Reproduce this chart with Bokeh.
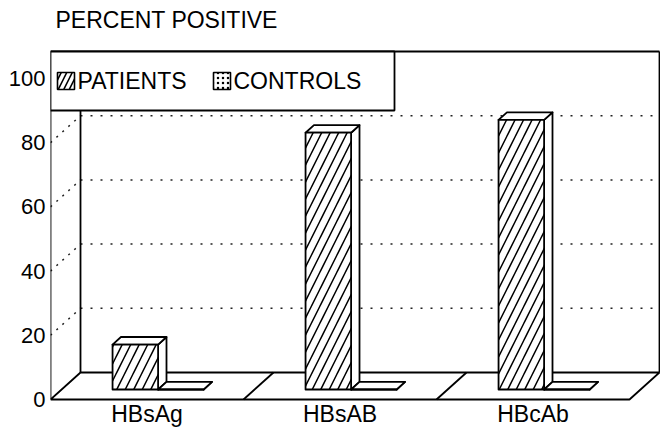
from bokeh.plotting import figure
from bokeh.models import Range1d, LinearAxis, FixedTicker
from bokeh.core.properties import value
from bokeh.embed import file_html
from bokeh.resources import INLINE

# ---- data ----
categories = ["HBsAg", "HBsAB", "HBcAb"]
patients = [14, 80, 84]
controls = [0, 0, 0]
y_ticks = [0, 20, 40, 60, 80, 100]
grid_levels = [20, 40, 60, 80]
series_names = ["PATIENTS", "CONTROLS"]
title_text = "PERCENT POSITIVE"

# ---- geometry (layout constants) ----
W, H = 660, 432
LEFT = 50
PX_X = 193.0          # pixels per category
PX_Y = 3.21           # pixels per percent
Y0_PAGE = 399         # figure-pixel row of value 0 (front)
DX, DY = 30 / PX_X, 27 / PX_Y   # full depth offset
BAR_W = 0.236
D0, D1 = 0.37, 0.65
N = len(categories)
TOP = 100 + DY

FONT = value("Liberation Sans")
FS = value("23px")
LW = 1.8

x_end = (W - LEFT) / PX_X
y_start = -(H - Y0_PAGE) / PX_Y
y_end = Y0_PAGE / PX_Y

p = figure(width=W, height=H, output_backend="svg", toolbar_location=None,
           x_range=Range1d(0, x_end), y_range=Range1d(y_start, y_end),
           min_border_left=LEFT, min_border_right=0, min_border_top=0,
           min_border_bottom=0, x_axis_location=None, y_axis_location=None)
p.outline_line_color = None
p.xgrid.visible = False
p.ygrid.visible = False
p.background_fill_color = "white"
p.border_fill_color = "white"

yaxis = LinearAxis(ticker=FixedTicker(ticks=y_ticks))
yaxis.axis_line_color = None
yaxis.major_tick_line_color = None
yaxis.major_tick_out = 0
yaxis.major_tick_in = 0
yaxis.minor_tick_line_color = None
yaxis.major_label_text_font = "Liberation Sans"
yaxis.major_label_text_font_size = "22px"
yaxis.major_label_text_color = "black"
yaxis.major_label_standoff = 5
p.add_layout(yaxis, "left")

ink = "black"

# back wall
p.quad(left=DX, right=N + DX, bottom=DY, top=TOP, fill_color="white", line_color=None)
# side wall
p.patch([0, DX, DX, 0], [0, DY, TOP, 100], fill_color="white", line_color=None)

# dotted gridlines on back wall and side wall
p.segment(x0=[DX] * len(grid_levels), y0=[g + DY for g in grid_levels],
          x1=[N + DX] * len(grid_levels), y1=[g + DY for g in grid_levels],
          line_color="#222222", line_width=1.5, line_dash="2 8")
p.segment(x0=[0] * len(grid_levels), y0=grid_levels,
          x1=[DX] * len(grid_levels), y1=[g + DY for g in grid_levels],
          line_color="#222222", line_width=1.5, line_dash="2 6")

# wall edges
p.segment(x0=[DX, N + DX, 0], y0=[DY, DY, TOP], x1=[DX, N + DX, N + DX], y1=[TOP, TOP, TOP],
          line_color=ink, line_width=LW)

# floor
p.patch([0, N, N + DX, DX], [0, 0, DY, DY], fill_color="white", line_color=ink, line_width=LW)
p.segment(x0=list(range(1, N)), y0=[0] * (N - 1), x1=[k + DX for k in range(1, N)],
          y1=[DY] * (N - 1), line_color=ink, line_width=LW)

# front axis line
p.segment(x0=[0], y0=[0], x1=[0], y1=[TOP], line_color=ink, line_width=LW)


def bar_faces(x_left, v):
    xl0, xr0 = x_left + D0 * DX, x_left + BAR_W + D0 * DX
    xl1, xr1 = x_left + D1 * DX, x_left + BAR_W + D1 * DX
    b0, b1 = D0 * DY, D1 * DY
    front = ([xl0, xr0, xr0, xl0], [b0, b0, b0 + v, b0 + v])
    top = ([xl0, xr0, xr1, xl1], [b0 + v, b0 + v, b1 + v, b1 + v])
    side = ([xr0, xr1, xr1, xr0], [b0, b1, b1 + v, b0 + v])
    return front, top, side


for series, offset, hatch in ((patients, -BAR_W, "/"), (controls, 0.0, " ")):
    fx, fy, tx, ty, sx, sy = [], [], [], [], [], []
    for i, v in enumerate(series):
        c = i + 0.5
        front, top, side = bar_faces(c + offset, v)
        fx.append(front[0]); fy.append(front[1])
        tx.append(top[0]); ty.append(top[1])
        sx.append(side[0]); sy.append(side[1])
    p.patches(sx, sy, fill_color="white", line_color=ink, line_width=LW, line_join="round")
    p.patches(tx, ty, fill_color="white", line_color=ink, line_width=LW, line_join="round")
    p.patches(fx, fy, fill_color="white", line_color=ink, line_width=LW, line_join="round",
              hatch_pattern=hatch, hatch_color=ink, hatch_scale=17, hatch_weight=1.5)

# legend box
LEG_R = 344 / PX_X
LEG_B = (Y0_PAGE - 110) / PX_Y
p.quad(left=0, right=LEG_R, bottom=LEG_B, top=TOP, fill_color="white",
       line_color=ink, line_width=LW)
sw_y0 = (Y0_PAGE - 89) / PX_Y
sw_y1 = (Y0_PAGE - 72) / PX_Y
sw_x = [7 / PX_X, 163 / PX_X]
sw_w = 17 / PX_X
p.quad(left=[sw_x[0]], right=[sw_x[0] + sw_w], bottom=[sw_y0], top=[sw_y1],
       fill_color="white", line_color=ink, line_width=1.6,
       hatch_pattern="/", hatch_color=ink, hatch_scale=11, hatch_weight=1.6)
p.quad(left=[sw_x[1]], right=[sw_x[1] + sw_w], bottom=[sw_y0], top=[sw_y1],
       fill_color="white", line_color=ink, line_width=1.6,
       hatch_pattern=".", hatch_color=ink, hatch_scale=5, hatch_weight=1.2)
p.text(x=[sw_x[0] + sw_w + 3 / PX_X, sw_x[1] + sw_w + 3 / PX_X],
       y=[(sw_y0 + sw_y1) / 2] * 2, text=series_names,
       text_font=FONT, text_font_size=FS, text_color=ink,
       text_align="left", text_baseline="middle")

# category labels
p.text(x=[i + 0.5 for i in range(N)], y=[-(413 - Y0_PAGE) / PX_Y] * N, text=categories,
       text_font=FONT, text_font_size=FS, text_color=ink,
       text_align="center", text_baseline="middle")

# title
p.text(x=[5 / PX_X], y=[(Y0_PAGE - 19) / PX_Y], text=[title_text],
       text_font=FONT, text_font_size=FS, text_color=ink,
       text_align="left", text_baseline="middle")

open("out.html", "w").write(file_html(p, INLINE))
